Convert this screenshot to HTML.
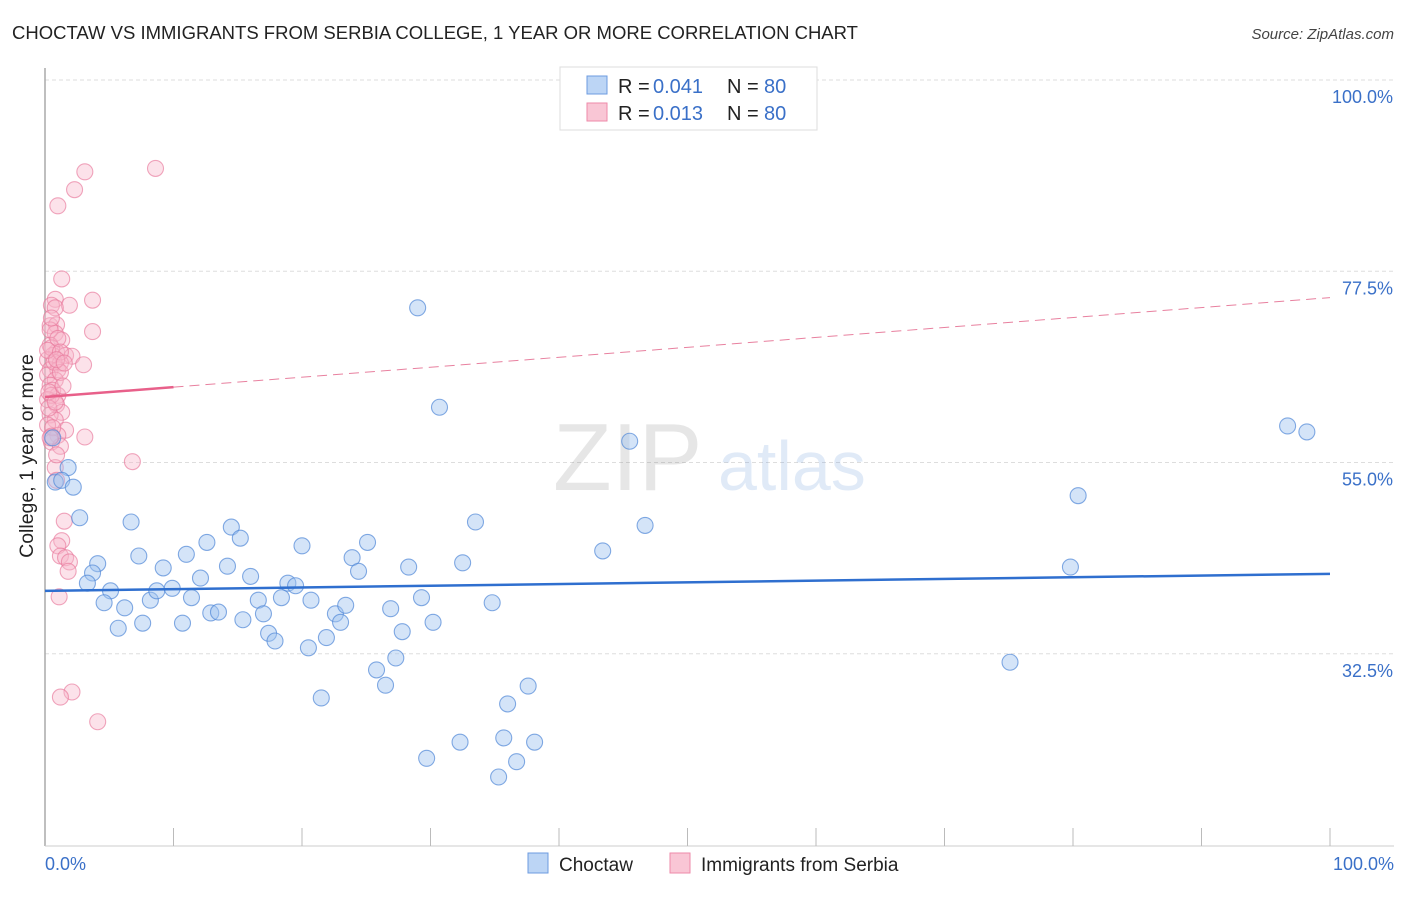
<!DOCTYPE html>
<html><head><meta charset="utf-8"><style>
body{margin:0;background:#fff;font-family:"Liberation Sans",sans-serif;}
svg text{font-family:"Liberation Sans",sans-serif;}
</style></head><body>
<svg width="1406" height="892" viewBox="0 0 1406 892">
<text x="12" y="39" font-size="18.5" fill="#222">CHOCTAW VS IMMIGRANTS FROM SERBIA COLLEGE, 1 YEAR OR MORE CORRELATION CHART</text>
<text x="1394" y="39" font-size="15" fill="#444" font-style="italic" text-anchor="end">Source: ZipAtlas.com</text>
<g id="grid"></g>
<g id="yticks"></g>
<line x1="45" y1="68" x2="45" y2="846" stroke="#aaa" stroke-width="1.5"/>
<line x1="45" y1="846" x2="1394" y2="846" stroke="#ccc"/>
<g id="xticks"></g>
<text x="33" y="456" font-size="19.5" fill="#222" text-anchor="middle" transform="rotate(-90 33 456)">College, 1 year or more</text>
<text x="45" y="870" font-size="18" fill="#3a70c8">0.0%</text>
<text x="1394" y="870" font-size="18" fill="#3a70c8" text-anchor="end">100.0%</text>
<g opacity="0.18">
<text x="553" y="490" font-size="96" font-family="Liberation Serif" fill="#777">ZIP</text>
<text x="718" y="490" font-size="70" fill="#5b8fd8">atlas</text>
</g>
<g id="pinkPts"></g>
<g id="bluePts"></g>
<g id="trends"></g>
<g>
<rect x="560" y="67" width="257" height="63" fill="#fff" stroke="#ddd"/>
<rect x="587" y="76" width="20" height="18" fill="#bcd5f5" stroke="#6c9be0"/>
<rect x="587" y="103" width="20" height="18" fill="#f9c6d5" stroke="#ee8aa9"/>
<text x="618" y="93" font-size="20" fill="#222">R = </text><text x="653" y="93" font-size="20" fill="#3a70c8">0.041</text>
<text x="727" y="93" font-size="20" fill="#222">N = </text><text x="764" y="93" font-size="20" fill="#3a70c8">80</text>
<text x="618" y="120" font-size="20" fill="#222">R = </text><text x="653" y="120" font-size="20" fill="#3a70c8">0.013</text>
<text x="727" y="120" font-size="20" fill="#222">N = </text><text x="764" y="120" font-size="20" fill="#3a70c8">80</text>
</g>
<g>
<rect x="528" y="853" width="20" height="20" fill="#bcd5f5" stroke="#6c9be0"/>
<text x="559" y="871" font-size="19" fill="#222">Choctaw</text>
<rect x="670" y="853" width="20" height="20" fill="#f9c6d5" stroke="#ee8aa9"/>
<text x="701" y="871" font-size="19" fill="#222">Immigrants from Serbia</text>
</g>
</svg>
<script>
const yTicks=[100,77.5,55,32.5];
const blueX=[0.6,1.8,0.8,1.3,2.2,2.7,6.7,4.1,3.7,3.3,5.1,4.6,6.2,5.7,7.3,7.6,9.2,8.2,8.7,9.9,11.0,10.7,11.4,12.1,12.6,12.9,13.5,14.2,14.5,15.2,15.4,16.0,16.6,17.0,17.4,17.9,18.4,18.9,19.5,20.0,20.5,20.7,21.5,21.9,22.6,23.0,23.4,23.9,24.4,25.1,25.8,26.5,26.9,27.3,27.8,28.3,29.0,29.3,29.7,30.2,30.7,32.3,32.5,33.5,34.8,35.3,35.7,36.0,36.7,37.6,38.1,43.4,45.5,46.7,75.1,79.8,80.4,96.7,98.2];
const blueY=[57.9,54.4,52.7,52.9,52.1,48.5,48.0,43.1,42.0,40.8,39.9,38.5,37.9,35.5,44.0,36.1,42.6,38.8,39.9,40.2,44.2,36.1,39.1,41.4,45.6,37.3,37.4,42.8,47.4,46.1,36.5,41.6,38.8,37.2,34.9,34.0,39.1,40.8,40.5,45.2,33.2,38.8,27.3,34.4,37.2,36.2,38.2,43.8,42.2,45.6,30.6,28.8,37.8,32.0,35.1,42.7,73.2,39.1,20.2,36.2,61.5,22.1,43.2,48.0,38.5,18.0,22.6,26.6,19.8,28.7,22.1,44.6,57.5,47.6,31.5,42.7,51.1,59.3,58.6];
const pinkX=[8.6,3.1,2.3,1.0,1.3,3.7,0.8,0.5,1.9,0.8,0.4,0.9,3.7,0.8,1.3,0.4,0.9,1.6,0.6,2.1,0.2,1.2,3.0,0.4,1.0,0.2,0.8,0.4,0.6,1.0,0.2,0.9,1.3,0.4,0.8,0.2,1.6,1.0,3.1,0.5,1.2,6.8,0.8,0.9,1.5,1.3,1.0,1.2,1.6,1.9,1.8,1.1,2.1,1.2,4.1,0.4,0.5,0.7,0.5,0.3,0.6,0.9,0.5,1.0,1.2,0.3,1.4,0.8,0.2,0.5,1.2,0.9,0.4,1.5];
const pinkY=[89.6,89.2,87.1,85.2,76.6,74.1,74.2,73.5,73.5,73.2,71.1,71.2,70.4,70.2,69.4,68.8,68.0,67.6,67.6,67.5,67.1,66.7,66.5,65.9,65.9,65.3,64.7,64.1,63.5,62.9,62.4,61.8,60.9,60.6,60.0,59.4,58.8,58.2,58.0,57.4,56.9,55.1,54.4,52.9,48.1,45.8,45.2,44.0,43.8,43.3,42.2,39.2,28.0,27.4,24.5,70.6,68.5,66.8,62.9,61.4,59.1,55.9,72.0,69.6,65.6,63.3,64.0,62.1,68.2,58.1,68.0,67.1,57.9,66.7];
const blueTrend=[39.9,41.9];
const pinkTrend=[62.7,74.4];
const pinkSolidEnd=10;
const xs=v=>45+v*12.85, ys=v=>80+(100-v)*8.5;
const NS='http://www.w3.org/2000/svg';
function mk(t,a,p){const e=document.createElementNS(NS,t);for(const k in a)e.setAttribute(k,a[k]);p.appendChild(e);return e;}
const g=document.getElementById('grid'),yt=document.getElementById('yticks');
yTicks.forEach(v=>{
 const l=mk('line',{x1:45,x2:1394,y1:ys(v),y2:ys(v),stroke:'#ddd','stroke-dasharray':'4 3'},g);
 
 
 const t=mk('text',{x:1393,y:ys(v)+23,'font-size':18,fill:'#3a70c8','text-anchor':'end'},yt);
 t.textContent=v.toFixed(1)+'%';
 
 
});
const xt=document.getElementById('xticks');
for(let i=1;i<=10;i++){const l=mk('line',{x1:xs(i*10),x2:xs(i*10),y1:828,y2:846,stroke:'#bbb'},xt);
 
 }
const pp=document.getElementById('pinkPts');
pinkX.forEach((x,i)=>{const c=mk('circle',{cx:xs(x),cy:ys(pinkY[i]),r:8,fill:'rgba(248,182,202,0.4)',stroke:'rgba(232,120,155,0.65)','stroke-width':1.1},pp);
 
 });
const bp=document.getElementById('bluePts');
blueX.forEach((x,i)=>{const c=mk('circle',{cx:xs(x),cy:ys(blueY[i]),r:8,fill:'rgba(160,196,240,0.45)',stroke:'rgba(80,135,215,0.7)','stroke-width':1.1},bp);
 
 });
const tr=document.getElementById('trends');
const bl=mk('line',{x1:xs(0),y1:ys(blueTrend[0]),x2:xs(100),y2:ys(blueTrend[1]),stroke:'#2f6fcf','stroke-width':2.5},tr);


const pe=pinkTrend[0]+(pinkTrend[1]-pinkTrend[0])*pinkSolidEnd/100;
const ps=mk('line',{x1:xs(0),y1:ys(pinkTrend[0]),x2:xs(pinkSolidEnd),y2:ys(pe),stroke:'#e8608a','stroke-width':2.5},tr);


const pd=mk('line',{x1:xs(pinkSolidEnd),y1:ys(pe),x2:xs(100),y2:ys(pinkTrend[1]),stroke:'#e8809f','stroke-width':1,'stroke-dasharray':'10 6'},tr);


</script>
</body></html>
